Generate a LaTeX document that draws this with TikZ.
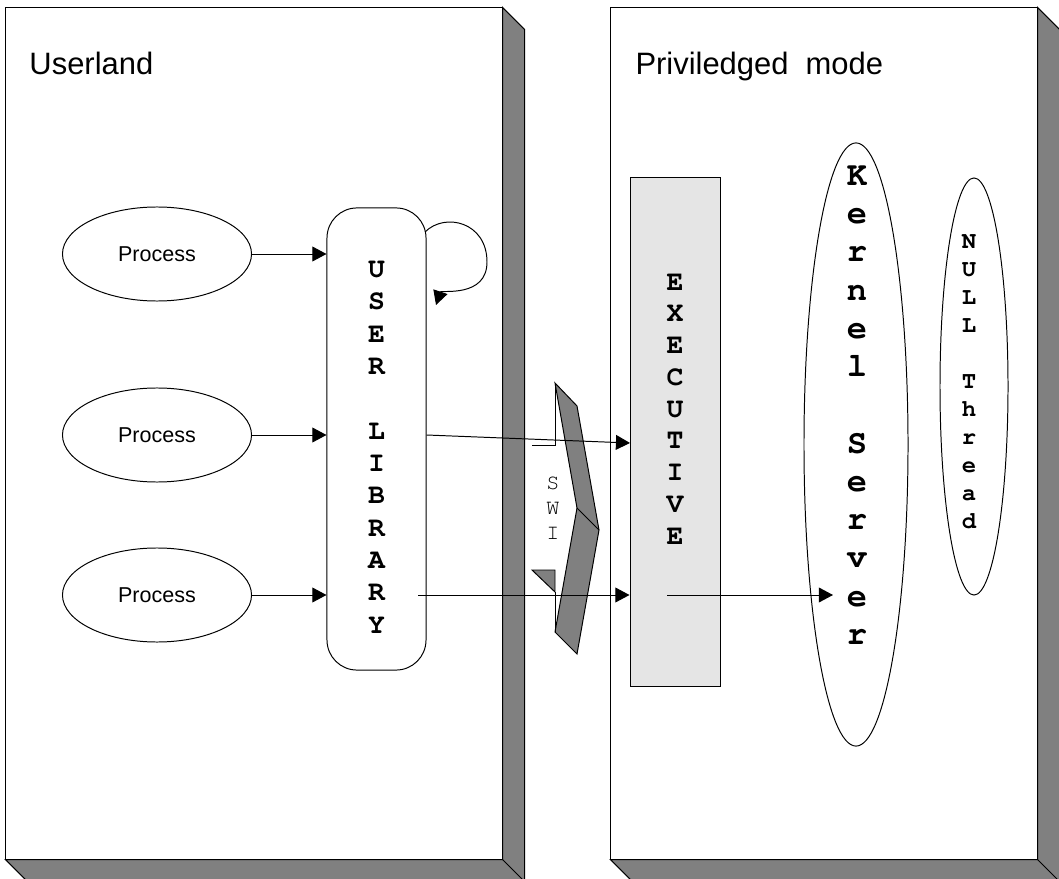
\documentclass[tikz,border=0pt]{standalone}
\usepackage{fontspec}
\setmainfont{Liberation Sans}
\setmonofont{texgyrecursor}[Extension=.otf, UprightFont=*-regular, BoldFont=*-bold]
\usetikzlibrary{arrows.meta,shapes.geometric}

\begin{document}
\begin{tikzpicture}[x=0.025cm,
            y=-0.025cm,
            >={Triangle[length=10pt,width=10.5pt]},
            line width=0.7pt,
            panel/.style={draw, fill=white, inner sep=0pt, minimum height=21.275cm},
            side/.style={draw, fill=black!50, line join=miter},
            proc/.style={ellipse, draw, inner sep=0pt, minimum width=4.725cm,
                         minimum height=2.35cm, font=\fontsize{15.3}{18}\selectfont},
            title/.style={anchor=base west, inner sep=0pt, font=\fontsize{22}{26}\selectfont},
            vword/.style={align=center, inner sep=0pt,
                          font=\ttfamily\bfseries\fontsize{20}{23}\selectfont}]

    \useasboundingbox (0,0) rectangle (1059,879);

    % panels with their 3d sides
    \node[panel, minimum width=12.4cm]  (user) at (254,433.5) {};
    \node[panel, minimum width=10.65cm] (priv) at (824,433.5) {};
    \draw[side] (user.north east) -- ++(22,22) -- ([shift={(22,22)}]user.south east)
                -- ([shift={(22,22)}]user.south west) -- (user.south west)
                -- (user.south east) -- cycle;
    \draw (user.south east) -- ++(22,22);
    \draw[side] (priv.north east) -- ++(22,22) -- ([shift={(22,22)}]priv.south east)
                -- ([shift={(22,22)}]priv.south west) -- (priv.south west)
                -- (priv.south east) -- cycle;
    \draw (priv.south east) -- ++(22,22);

    \node[title] (ulabel) at (29,75)  {Userland};
    \node[title] (plabel) at (635,75) {Priviledged~ mode};

    % userland
    \node[proc] (p1) at (157,254) {Process};
    \node[proc] (p2) at (157,435) {Process};
    \node[proc] (p3) at (157,595) {Process};

    \node[draw, rounded corners=0.75cm, inner sep=0pt, minimum width=2.475cm,
          minimum height=11.55cm] (lib) at (376.5,439) {};
    \node[vword] (libtxt) at (376.5,447) {U\\S\\E\\R\\\mbox{}\\L\\I\\B\\R\\A\\R\\Y};

    % software interrupt
    \filldraw[fill=black!50] (555,383) -- (577,406) -- (599,530) -- (577,654)
                             -- (555,632) -- (577,508) -- cycle;
    \draw (577,508) -- (599,530);
    \draw (555,383) -- (555,445) -- (532,445);
    \filldraw[fill=black!50] (532,570) -- (555,570) -- (555,592) -- cycle;
    \draw (555,592) -- (555,632);
    \node[vword, font=\ttfamily\fontsize{15.5}{17.8}\selectfont] (swi) at (553,508) {S\\W\\I};

    % privileged side
    \node[draw, fill=black!10, inner sep=0pt, minimum width=2.25cm,
          minimum height=12.7cm] (exec) at (675,432) {};
    \node[vword, font=\ttfamily\bfseries\fontsize{20}{22.6}\selectfont] (exectxt)
          at (675,409) {E\\X\\E\\C\\U\\T\\I\\V\\E};

    \node[ellipse, draw, inner sep=0pt, minimum width=2.6cm,
          minimum height=15.075cm] (kern) at (856,444.5) {};
    \node[vword, font=\ttfamily\bfseries\fontsize{24}{27.2}\selectfont] (kerntxt)
          at (857,405) {K\\e\\r\\n\\e\\l\\\mbox{}\\S\\e\\r\\v\\e\\r};

    \node[ellipse, draw, inner sep=0pt, minimum width=1.7cm,
          minimum height=10.425cm] (null) at (974,386.5) {};
    \node[vword, font=\ttfamily\bfseries\fontsize{17}{19.9}\selectfont] (nulltxt)
          at (969,382) {N\\U\\L\\L\\\mbox{}\\T\\h\\r\\e\\a\\d};

    % connectors
    \coordinate (loopout) at (425,232);
    \coordinate (loopin)  at (436,305);
    \coordinate (exin)    at (630,443);
    \coordinate (libout)  at (418,595);
    \coordinate (exout)   at (667,595);
    \coordinate (kin)     at (833,595);

    \path[->] (p1) edge (p1 -| lib.west)
              (p2) edge (p2 -| lib.west)
              (p3) edge (p3 -| lib.west)
              (p2 -| lib.east) edge (exin)
              (libout) edge (libout -| exec.west)
              (exout) edge (kin);
    \draw[->] (loopout) .. controls (445,212) and (487,222) .. (487,262)
                        .. controls (487,298) and (441,290) .. (loopin);

\end{tikzpicture}
\end{document}
